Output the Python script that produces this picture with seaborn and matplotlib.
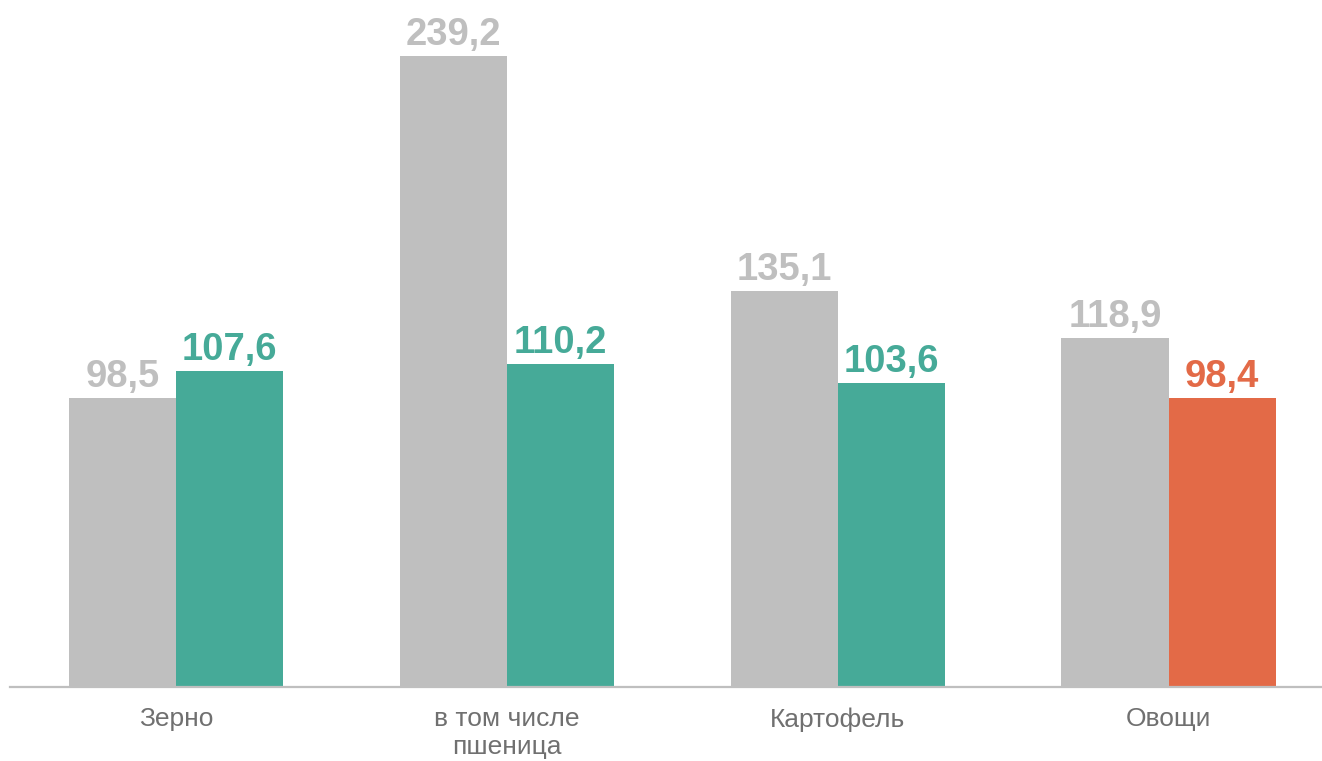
import matplotlib
matplotlib.use("Agg")
import matplotlib.pyplot as plt
import seaborn as sns
import pandas as pd

categories = ["Зерно", "в том числе\nпшеница", "Картофель", "Овощи"]
series_names = ["Прошлый год", "Текущий год"]
prev_values = [98.5, 239.2, 135.1, 118.9]
curr_values = [107.6, 110.2, 103.6, 98.4]

gray = "#BFBFBF"
teal = "#46AA98"
orange = "#E36A47"

df = pd.DataFrame({
    "category": categories * 2,
    "series": [series_names[0]] * len(categories) + [series_names[1]] * len(categories),
    "value": prev_values + curr_values,
})

sns.set_theme(style="white")
plt.rcParams["font.family"] = ["Liberation Sans", "DejaVu Sans"]

fig = plt.figure(figsize=(13.22, 7.61), dpi=100)
ax = fig.add_axes([10 / 1322, (761 - 686.5) / 761, 1 - 10 / 1322, 630.5 / 761])

sns.barplot(data=df, x="category", y="value", hue="series",
            palette=[gray, teal], width=0.647, gap=0, saturation=1,
            linewidth=0, legend=False, ax=ax)

ax.set_ylim(0, 215.3)
ax.set_xlim(-0.502, 3.464)

# current-year values below 100 shown in orange
for bar, v in zip(ax.containers[1], curr_values):
    if v < 100:
        bar.set_facecolor(orange)

ymax = ax.get_ylim()[1]
for cont, vals in zip(ax.containers, [prev_values, curr_values]):
    for bar, v in zip(cont, vals):
        col = bar.get_facecolor()
        top = min(bar.get_height(), ymax)
        ax.annotate(f"{v:.1f}".replace(".", ","),
                    (bar.get_x() + bar.get_width() / 2, top),
                    xytext=(0, 8), textcoords="offset points",
                    ha="center", va="baseline", fontsize=27.5,
                    fontweight="bold", color=col, annotation_clip=False)

ax.set_xlabel("")
ax.set_ylabel("")
ax.set_yticks([])
for s in ["left", "right", "top"]:
    ax.spines[s].set_visible(False)
ax.spines["bottom"].set_color(gray)
ax.spines["bottom"].set_linewidth(1.6)
ax.tick_params(axis="x", length=0, pad=15, labelsize=19, labelcolor="#707070")

fig.savefig("out.png", dpi=100)
